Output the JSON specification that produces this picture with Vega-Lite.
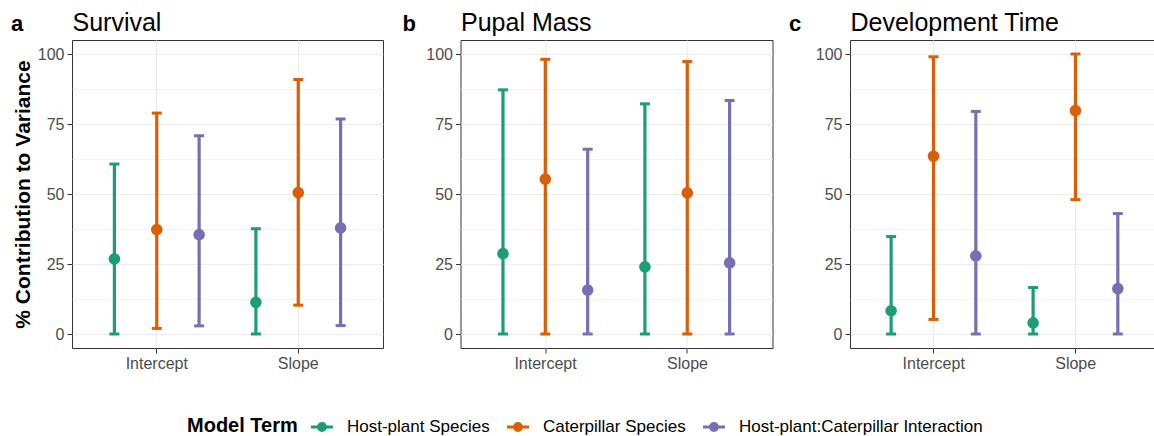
{
  "$schema": "https://vega.github.io/schema/vega-lite/v6.json",
  "padding": {"left": 10, "right": 0, "top": 9, "bottom": 0},
  "background": "white",
  "config": {
    "font": "Liberation Sans",
    "view": {"stroke": "#333333", "strokeWidth": 1},
    "legend": {"titleFontSize": 20, "titleFontWeight": "bold", "titleColor": "black", "labelFontSize": 17, "labelColor": "black", "labelLimit": 500, "symbolType": "M-1,-0.13L1,-0.13L1,0.13L-1,0.13Z M0.45,0 A0.45,0.45 0 1 1 -0.45,0 A0.45,0.45 0 1 1 0.45,0 Z", "symbolSize": 484, "symbolStrokeWidth": 0, "symbolOpacity": 1, "labelOffset": 14, "columnPadding": 17, "titlePadding": 13}
  },
  "data": {"values": [
    {"panel": "Survival", "param": "Intercept", "term": "Host-plant Species", "est": 26.8, "lo": 0, "hi": 60.7},
    {"panel": "Survival", "param": "Intercept", "term": "Caterpillar Species", "est": 37.3, "lo": 2.0, "hi": 78.9},
    {"panel": "Survival", "param": "Intercept", "term": "Host-plant:Caterpillar Interaction", "est": 35.5, "lo": 2.9, "hi": 70.8},
    {"panel": "Survival", "param": "Slope", "term": "Host-plant Species", "est": 11.3, "lo": 0, "hi": 37.6},
    {"panel": "Survival", "param": "Slope", "term": "Caterpillar Species", "est": 50.5, "lo": 10.3, "hi": 90.9},
    {"panel": "Survival", "param": "Slope", "term": "Host-plant:Caterpillar Interaction", "est": 37.9, "lo": 3.0, "hi": 76.8},
    {"panel": "Pupal Mass", "param": "Intercept", "term": "Host-plant Species", "est": 28.7, "lo": 0, "hi": 87.2},
    {"panel": "Pupal Mass", "param": "Intercept", "term": "Caterpillar Species", "est": 55.3, "lo": 0, "hi": 98.1},
    {"panel": "Pupal Mass", "param": "Intercept", "term": "Host-plant:Caterpillar Interaction", "est": 15.7, "lo": 0, "hi": 66.0},
    {"panel": "Pupal Mass", "param": "Slope", "term": "Host-plant Species", "est": 24.0, "lo": 0, "hi": 82.2},
    {"panel": "Pupal Mass", "param": "Slope", "term": "Caterpillar Species", "est": 50.4, "lo": 0, "hi": 97.3},
    {"panel": "Pupal Mass", "param": "Slope", "term": "Host-plant:Caterpillar Interaction", "est": 25.4, "lo": 0, "hi": 83.4},
    {"panel": "Development Time", "param": "Intercept", "term": "Host-plant Species", "est": 8.3, "lo": 0, "hi": 34.8},
    {"panel": "Development Time", "param": "Intercept", "term": "Caterpillar Species", "est": 63.5, "lo": 5.2, "hi": 99.0},
    {"panel": "Development Time", "param": "Intercept", "term": "Host-plant:Caterpillar Interaction", "est": 27.9, "lo": 0, "hi": 79.5},
    {"panel": "Development Time", "param": "Slope", "term": "Host-plant Species", "est": 4.0, "lo": 0, "hi": 16.6},
    {"panel": "Development Time", "param": "Slope", "term": "Caterpillar Species", "est": 79.8, "lo": 48.0, "hi": 100},
    {"panel": "Development Time", "param": "Slope", "term": "Host-plant:Caterpillar Interaction", "est": 16.2, "lo": 0, "hi": 43.0}
  ]},
  "bounds": "flush",
  "spacing": 77.5,
  "hconcat": [
    {
      "width": 311, "height": 308,
      "title": {"text": "a", "anchor": "start", "frame": "group", "dx": -61, "dy": 43, "fontSize": 22, "fontWeight": "bold", "color": "black", "offset": 0, "baseline": "alphabetic"},
      "transform": [{"filter": "datum.panel === 'Survival'"}],
      "layer": [
        {"layer": [
          {"mark": {"type": "rule", "strokeWidth": 3.2},
           "encoding": {
             "x": {"field": "param", "type": "nominal", "scale": {"type": "band", "domain": ["Intercept", "Slope"], "paddingInner": 0.102, "paddingOuter": 0.15},
                   "axis": {"orient": "bottom", "grid": true, "gridColor": "#EBEBEB", "gridWidth": 1.1, "domain": false, "tickSize": 5, "tickColor": "#333333", "labelAngle": 0, "labelFontSize": 16, "labelColor": "#4D4D4D", "labelPadding": 2, "title": null}},
             "xOffset": {"field": "term", "type": "nominal", "scale": {"domain": ["Host-plant Species", "Caterpillar Species", "Host-plant:Caterpillar Interaction"], "paddingInner": 0, "paddingOuter": 0}},
             "y": {"field": "lo", "type": "quantitative", "title": "% Contribution to Variance", "scale": {"domain": [-5, 105], "nice": false, "zero": false},
                   "axis": {"values": [0, 25, 50, 75, 100], "grid": true, "gridColor": "#EBEBEB", "gridWidth": 1.1, "domain": false, "tickSize": 5, "tickColor": "#333333", "labelFontSize": 16, "labelColor": "#4D4D4D", "labelPadding": 3, "titleFontSize": 21, "titleFontWeight": "bold", "titleColor": "black", "titlePadding": 4}},
             "y2": {"field": "hi"},
             "color": {"field": "term", "type": "nominal", "title": "Model Term", "scale": {"domain": ["Host-plant Species", "Caterpillar Species", "Host-plant:Caterpillar Interaction"], "range": ["#1B9E77", "#D95F02", "#7570B3"]}}
           }},
          {"mark": {"type": "tick", "size": 10, "thickness": 3, "opacity": 1},
           "encoding": {
             "x": {"field": "param", "type": "nominal"},
             "xOffset": {"field": "term", "type": "nominal"},
             "y": {"field": "lo", "type": "quantitative", "title": "% Contribution to Variance"},
             "color": {"field": "term", "type": "nominal", "title": "Model Term"}
           }},
          {"mark": {"type": "tick", "size": 10, "thickness": 3, "opacity": 1},
           "encoding": {
             "x": {"field": "param", "type": "nominal"},
             "xOffset": {"field": "term", "type": "nominal"},
             "y": {"field": "hi", "type": "quantitative", "title": "% Contribution to Variance"},
             "color": {"field": "term", "type": "nominal", "title": "Model Term"}
           }},
          {"mark": {"type": "point", "filled": true, "size": 135, "opacity": 1},
           "encoding": {
             "x": {"field": "param", "type": "nominal"},
             "xOffset": {"field": "term", "type": "nominal"},
             "y": {"field": "est", "type": "quantitative", "title": "% Contribution to Variance"},
             "color": {"field": "term", "type": "nominal", "title": "Model Term",
               "legend": {"orient": "none", "legendX": 115, "legendY": 376, "direction": "horizontal", "titleOrient": "left", "labelLimit": 500, "symbolType": "M-1,-0.13L1,-0.13L1,0.13L-1,0.13Z M0.45,0 A0.45,0.45 0 1 1 -0.45,0 A0.45,0.45 0 1 1 0.45,0 Z", "symbolSize": 484, "symbolStrokeWidth": 0}}
           }}
        ]},
        {"mark": {"type": "point", "opacity": 0},
         "encoding": {
           "x": {"field": "param", "type": "nominal", "axis": {"orient": "top", "grid": false, "domain": false, "ticks": false, "labels": false, "title": "Survival", "titleAnchor": "start", "titleAlign": "left", "titleFontSize": 25, "titleFontWeight": "normal", "titleColor": "black", "titlePadding": 10, "titleBaseline": "alphabetic"}},
           "y": {"field": "est", "type": "quantitative", "axis": {"orient": "right", "values": [12.5, 37.5, 62.5, 87.5], "grid": true, "gridColor": "#EFEFEF", "gridWidth": 0.8, "domain": false, "ticks": false, "labels": false, "title": null}}
         }}
      ],
      "resolve": {"axis": {"x": "independent", "y": "independent"}}
    },
    {
      "width": 312, "height": 308,
      "title": {"text": "b", "anchor": "start", "frame": "group", "dx": -58, "dy": 43, "fontSize": 22, "fontWeight": "bold", "color": "black", "offset": 0, "baseline": "alphabetic"},
      "transform": [{"filter": "datum.panel === 'Pupal Mass'"}],
      "layer": [
        {"layer": [
          {"mark": {"type": "rule", "strokeWidth": 3.2},
           "encoding": {
             "x": {"field": "param", "type": "nominal", "scale": {"type": "band", "domain": ["Intercept", "Slope"], "paddingInner": 0.102, "paddingOuter": 0.15},
                   "axis": {"orient": "bottom", "grid": true, "gridColor": "#EBEBEB", "gridWidth": 1.1, "domain": false, "tickSize": 5, "tickColor": "#333333", "labelAngle": 0, "labelFontSize": 16, "labelColor": "#4D4D4D", "labelPadding": 2, "title": null}},
             "xOffset": {"field": "term", "type": "nominal", "scale": {"domain": ["Host-plant Species", "Caterpillar Species", "Host-plant:Caterpillar Interaction"], "paddingInner": 0, "paddingOuter": 0}},
             "y": {"field": "lo", "type": "quantitative", "title": null, "scale": {"domain": [-5, 105], "nice": false, "zero": false},
                   "axis": {"values": [0, 25, 50, 75, 100], "grid": true, "gridColor": "#EBEBEB", "gridWidth": 1.1, "domain": false, "tickSize": 5, "tickColor": "#333333", "labelFontSize": 16, "labelColor": "#4D4D4D", "labelPadding": 3}},
             "y2": {"field": "hi"},
             "color": {"field": "term", "type": "nominal", "title": "Model Term", "scale": {"domain": ["Host-plant Species", "Caterpillar Species", "Host-plant:Caterpillar Interaction"], "range": ["#1B9E77", "#D95F02", "#7570B3"]}}
           }},
          {"mark": {"type": "tick", "size": 10, "thickness": 3, "opacity": 1},
           "encoding": {
             "x": {"field": "param", "type": "nominal"},
             "xOffset": {"field": "term", "type": "nominal"},
             "y": {"field": "lo", "type": "quantitative", "title": null},
             "color": {"field": "term", "type": "nominal", "title": "Model Term"}
           }},
          {"mark": {"type": "tick", "size": 10, "thickness": 3, "opacity": 1},
           "encoding": {
             "x": {"field": "param", "type": "nominal"},
             "xOffset": {"field": "term", "type": "nominal"},
             "y": {"field": "hi", "type": "quantitative", "title": null},
             "color": {"field": "term", "type": "nominal", "title": "Model Term"}
           }},
          {"mark": {"type": "point", "filled": true, "size": 135, "opacity": 1},
           "encoding": {
             "x": {"field": "param", "type": "nominal"},
             "xOffset": {"field": "term", "type": "nominal"},
             "y": {"field": "est", "type": "quantitative", "title": null},
             "color": {"field": "term", "type": "nominal", "title": "Model Term"}
           }}
        ]},
        {"mark": {"type": "point", "opacity": 0},
         "encoding": {
           "x": {"field": "param", "type": "nominal", "axis": {"orient": "top", "grid": false, "domain": false, "ticks": false, "labels": false, "title": "Pupal Mass", "titleAnchor": "start", "titleAlign": "left", "titleFontSize": 25, "titleFontWeight": "normal", "titleColor": "black", "titlePadding": 10, "titleBaseline": "alphabetic"}},
           "y": {"field": "est", "type": "quantitative", "axis": {"orient": "right", "values": [12.5, 37.5, 62.5, 87.5], "grid": true, "gridColor": "#EFEFEF", "gridWidth": 0.8, "domain": false, "ticks": false, "labels": false, "title": null}}
         }}
      ],
      "resolve": {"axis": {"x": "independent", "y": "independent"}}
    },
    {
      "width": 304, "height": 308,
      "title": {"text": "c", "anchor": "start", "frame": "group", "dx": -61, "dy": 43, "fontSize": 22, "fontWeight": "bold", "color": "black", "offset": 0, "baseline": "alphabetic"},
      "transform": [{"filter": "datum.panel === 'Development Time'"}],
      "layer": [
        {"layer": [
          {"mark": {"type": "rule", "strokeWidth": 3.2},
           "encoding": {
             "x": {"field": "param", "type": "nominal", "scale": {"type": "band", "domain": ["Intercept", "Slope"], "paddingInner": 0.102, "paddingOuter": 0.1215, "align": 0.578},
                   "axis": {"orient": "bottom", "grid": true, "gridColor": "#EBEBEB", "gridWidth": 1.1, "domain": false, "tickSize": 5, "tickColor": "#333333", "labelAngle": 0, "labelFontSize": 16, "labelColor": "#4D4D4D", "labelPadding": 2, "title": null}},
             "xOffset": {"field": "term", "type": "nominal", "scale": {"domain": ["Host-plant Species", "Caterpillar Species", "Host-plant:Caterpillar Interaction"], "paddingInner": 0, "paddingOuter": 0}},
             "y": {"field": "lo", "type": "quantitative", "title": null, "scale": {"domain": [-5, 105], "nice": false, "zero": false},
                   "axis": {"values": [0, 25, 50, 75, 100], "grid": true, "gridColor": "#EBEBEB", "gridWidth": 1.1, "domain": false, "tickSize": 5, "tickColor": "#333333", "labelFontSize": 16, "labelColor": "#4D4D4D", "labelPadding": 3}},
             "y2": {"field": "hi"},
             "color": {"field": "term", "type": "nominal", "title": "Model Term", "scale": {"domain": ["Host-plant Species", "Caterpillar Species", "Host-plant:Caterpillar Interaction"], "range": ["#1B9E77", "#D95F02", "#7570B3"]}}
           }},
          {"mark": {"type": "tick", "size": 10, "thickness": 3, "opacity": 1},
           "encoding": {
             "x": {"field": "param", "type": "nominal"},
             "xOffset": {"field": "term", "type": "nominal"},
             "y": {"field": "lo", "type": "quantitative", "title": null},
             "color": {"field": "term", "type": "nominal", "title": "Model Term"}
           }},
          {"mark": {"type": "tick", "size": 10, "thickness": 3, "opacity": 1},
           "encoding": {
             "x": {"field": "param", "type": "nominal"},
             "xOffset": {"field": "term", "type": "nominal"},
             "y": {"field": "hi", "type": "quantitative", "title": null},
             "color": {"field": "term", "type": "nominal", "title": "Model Term"}
           }},
          {"mark": {"type": "point", "filled": true, "size": 135, "opacity": 1},
           "encoding": {
             "x": {"field": "param", "type": "nominal"},
             "xOffset": {"field": "term", "type": "nominal"},
             "y": {"field": "est", "type": "quantitative", "title": null},
             "color": {"field": "term", "type": "nominal", "title": "Model Term"}
           }}
        ]},
        {"mark": {"type": "point", "opacity": 0},
         "encoding": {
           "x": {"field": "param", "type": "nominal", "axis": {"orient": "top", "grid": false, "domain": false, "ticks": false, "labels": false, "title": "Development Time", "titleAnchor": "start", "titleAlign": "left", "titleFontSize": 25, "titleFontWeight": "normal", "titleColor": "black", "titlePadding": 10, "titleBaseline": "alphabetic"}},
           "y": {"field": "est", "type": "quantitative", "axis": {"orient": "right", "values": [12.5, 37.5, 62.5, 87.5], "grid": true, "gridColor": "#EFEFEF", "gridWidth": 0.8, "domain": false, "ticks": false, "labels": false, "title": null}}
         }}
      ],
      "resolve": {"axis": {"x": "independent", "y": "independent"}}
    }
  ]
}
